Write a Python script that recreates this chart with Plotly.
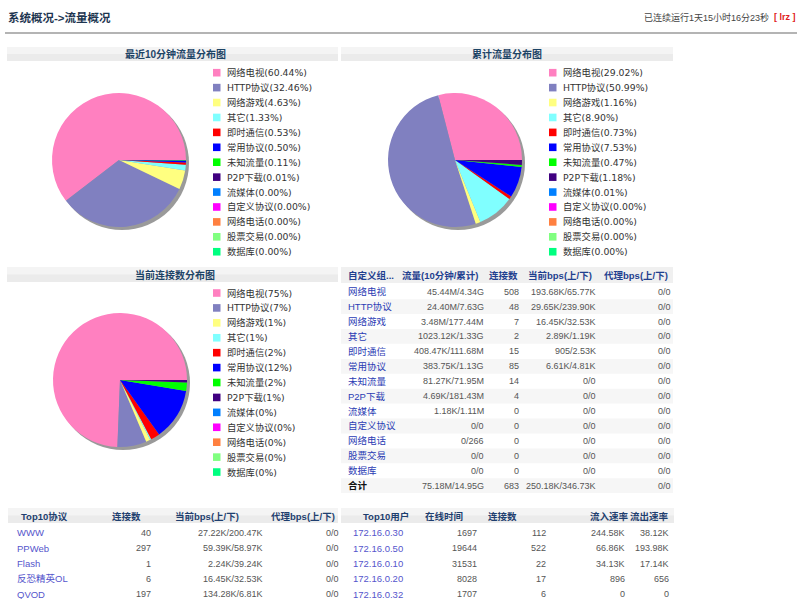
import plotly.graph_objects as go

# ---------------- data ----------------
categories = ['网络电视', 'HTTP协议', '网络游戏', '其它', '即时通信', '常用协议', '未知流量',
              'P2P下载', '流媒体', '自定义协议', '网络电话', '股票交易', '数据库']
cat_colors = ['#ff80c0', '#8080c0', '#ffff80', '#80ffff', '#ff0000', '#0000ff', '#00ff00',
              '#400080', '#0080ff', '#ff00ff', '#ff8040', '#80ff80', '#00ff80']
recent_pct = [60.44, 32.46, 4.63, 1.33, 0.53, 0.50, 0.11, 0.01, 0.00, 0.00, 0.00, 0.00, 0.00]
total_pct = [29.02, 50.99, 1.16, 8.90, 0.73, 7.53, 0.47, 1.18, 0.01, 0.00, 0.00, 0.00, 0.00]
conn_pct = [75, 7, 1, 1, 2, 12, 2, 1, 0, 0, 0, 0, 0]
traffic = ['45.44M/4.34G', '24.40M/7.63G', '3.48M/177.44M', '1023.12K/1.33G', '408.47K/111.68M',
           '383.75K/1.13G', '81.27K/71.95M', '4.69K/181.43M', '1.18K/1.11M', '0/0', '0/266', '0/0', '0/0']
connections = [508, 48, 7, 2, 15, 85, 14, 4, 0, 0, 0, 0, 0]
cur_bps = ['193.68K/65.77K', '29.65K/239.90K', '16.45K/32.53K', '2.89K/1.19K', '905/2.53K',
           '6.61K/4.81K', '0/0', '0/0', '0/0', '0/0', '0/0', '0/0', '0/0']
proxy_bps = ['0/0'] * 13
total_row = ['合计', '75.18M/14.95G', 683, '250.18K/346.73K', '0/0']
table_headers = ['自定义组...', '流量(10分钟/累计)', '连接数', '当前bps(上/下)', '代理bps(上/下)']

chart_titles = ['最近10分钟流量分布图', '累计流量分布图', '当前连接数分布图']

top_proto_headers = ['Top10协议', '连接数', '当前bps(上/下)', '代理bps(上/下)']
top_proto = ['WWW', 'PPWeb', 'Flash', '反恐精英OL', 'QVOD']
top_proto_conn = [40, 297, 1, 6, 197]
top_proto_bps = ['27.22K/200.47K', '59.39K/58.97K', '2.24K/39.24K', '16.45K/32.53K', '134.28K/6.81K']
top_proto_proxy = ['0/0'] * 5

top_user_headers = ['Top10用户', '在线时间', '连接数', '流入速率', '流出速率']
top_users = ['172.16.0.30', '172.16.0.50', '172.16.0.10', '172.16.0.20', '172.16.0.32']
top_user_online = [1697, 19644, 31531, 8028, 1707]
top_user_conn = [112, 522, 22, 17, 6]
top_user_in = ['244.58K', '66.86K', '34.13K', '896', '0']
top_user_out = ['38.12K', '193.98K', '17.14K', '656', '0']

page_title = '系统概况->流量概况'
uptime_text = '已连续运行1天15小时16分23秒'
user_text = '[ lrz ]'

# ---------------- layout helpers ----------------
W, H = 800, 599
CJK = 'Liberation Sans, Noto Sans CJK SC'
LEG = 'DejaVu Sans, Noto Sans CJK SC'
HEAD_C = '#1d4466'
LINK_C = '#2b3cb4'
NUM_C = '#555555'

fig = go.Figure()
shapes = []
annotations = []


def txt(x, y, s, anchor='left', size=9, color=NUM_C, bold=False, family=CJK):
    if bold:
        s = '<b>%s</b>' % s
    annotations.append(dict(x=x, y=y, xref='x', yref='y', text=str(s), showarrow=False,
                            xanchor=anchor, yanchor='middle', borderpad=0,
                            font=dict(size=size, color=color, family=family)))


def rect(x0, y0, x1, y1, color, layer='below'):
    shapes.append(dict(type='rect', xref='x', yref='y', x0=x0, y0=y0, x1=x1, y1=y1,
                       fillcolor=color, line=dict(width=0), layer=layer))


def header_bar(x0, x1, y0, y1):
    rect(x0, y0, x1, y1, '#ebebeb')
    rect(x0, y0, x1, (y0 + y1) / 2, '#f4f4f4')


def pie(values, cx, cy, r):
    def dom(c0, c1, rr):
        return dict(x=[(c0 - rr) / W, (c0 + rr) / W],
                    y=[1 - (c1 + rr) / H, 1 - (c1 - rr) / H])
    # first slice starts at 3 o'clock, all slices run counter-clockwise
    rot = 90 - 360.0 * values[0] / sum(values)
    fig.add_trace(go.Pie(values=[1], labels=['shadow'], domain=dom(cx + 3, cy + 3, r),
                         marker=dict(colors=['#9a9a9a'], line=dict(width=0)),
                         textinfo='none', hoverinfo='skip', showlegend=False, sort=False))
    fig.add_trace(go.Pie(values=values, labels=categories, domain=dom(cx, cy, r),
                         marker=dict(colors=cat_colors, line=dict(width=0)),
                         textinfo='none', showlegend=False, sort=False,
                         direction='counterclockwise', rotation=rot))


def legend(x, y0, labels):
    for i, (lab, col) in enumerate(zip(labels, cat_colors)):
        y = y0 + i * 14.92
        rect(x, y - 3.8, x + 7.5, y + 3.8, col, layer='above')
        txt(x + 13, y, lab, size=9.3, color='#333333', family=LEG)


# ---------------- page header ----------------
txt(7, 17, page_title, size=11.5, color='#1d3550', bold=True)
txt(770, 17, uptime_text, anchor='right', size=9, color='#444444')
txt(797, 17, user_text, anchor='right', size=9, color='#e02020', bold=True)
rect(5, 32, 797, 34, '#b4b4b4')

# ---------------- pies ----------------
header_bar(7, 338, 47, 61)
header_bar(341, 673, 47, 61)
header_bar(7, 338, 267, 282)
txt(175, 54, chart_titles[0], anchor='center', size=10, color=HEAD_C, bold=True)
txt(507, 54, chart_titles[1], anchor='center', size=10, color=HEAD_C, bold=True)
txt(175, 274.5, chart_titles[2], anchor='center', size=10, color=HEAD_C, bold=True)

pie(recent_pct, 119, 160, 67)
pie(total_pct, 455, 160, 67)
pie(connections, 120, 380, 67)

legend(213, 72.7, ['%s(%.2f%%)' % (c, v) for c, v in zip(categories, recent_pct)])
legend(549, 72.7, ['%s(%.2f%%)' % (c, v) for c, v in zip(categories, total_pct)])
legend(213, 293, ['%s(%d%%)' % (c, v) for c, v in zip(categories, conn_pct)])

# ---------------- custom group table ----------------
rect(341, 267, 673, 283, '#f0f0f0')
hx = [347, 440, 503, 560, 636]
for i, h in enumerate(table_headers):
    txt(hx[i], 275, h, anchor='left' if i == 0 else 'center', size=9.5, color='#1f3f8f', bold=True)
col_x = [347, 485, 520, 597, 672]
rows = list(zip(categories, traffic, connections, cur_bps, proxy_bps))
for r, row in enumerate(rows + [tuple(total_row)]):
    y = 291.7 + r * 14.92
    if r % 2 == 1:
        rect(341, y - 7.4, 673, y + 7.4, '#f6f6f6')
    last = r == len(rows)
    for c, v in enumerate(row):
        if c == 0:
            txt(col_x[c], y, v, size=9.5, color='#111111' if last else LINK_C, bold=last)
        else:
            txt(col_x[c], y, v, anchor='right', size=9, color=NUM_C)

# ---------------- top10 protocol ----------------
header_bar(8, 338, 508, 523)
px = [44, 126, 207, 303]
for i, h in enumerate(top_proto_headers):
    txt(px[i], 516, h, anchor='center', size=9.5, color='#1f3f6f', bold=True)
pcol = [16, 152, 264, 340]
for r in range(len(top_proto)):
    y = 532.7 + r * 15.4
    txt(pcol[0], y, top_proto[r], size=9.5, color='#5555cc')
    txt(pcol[1], y, top_proto_conn[r], anchor='right')
    txt(pcol[2], y, top_proto_bps[r], anchor='right')
    txt(pcol[3], y, top_proto_proxy[r], anchor='right')

# ---------------- top10 users ----------------
header_bar(341, 674, 508, 523)
ux = [386, 444, 502, 609, 649]
for i, h in enumerate(top_user_headers):
    txt(ux[i], 516, h, anchor='center', size=9.5, color='#1f3f6f', bold=True)
ucol = [352, 478, 547, 626, 670]
for r in range(len(top_users)):
    y = 532.7 + r * 15.4
    txt(ucol[0], y, top_users[r], size=9.5, color='#5555cc')
    txt(ucol[1], y, top_user_online[r], anchor='right')
    txt(ucol[2], y, top_user_conn[r], anchor='right')
    txt(ucol[3], y, top_user_in[r], anchor='right')
    txt(ucol[4], y, top_user_out[r], anchor='right')

fig.update_layout(
    width=W, height=H, margin=dict(l=0, r=0, t=0, b=0),
    paper_bgcolor='white', plot_bgcolor='white', showlegend=False,
    xaxis=dict(range=[0, W], visible=False, domain=[0, 1], fixedrange=True),
    yaxis=dict(range=[H, 0], visible=False, domain=[0, 1], fixedrange=True),
    shapes=shapes, annotations=annotations,
)
fig.write_html('out.html', config={'displayModeBar': False},
               post_script="document.body.style.margin='0px';document.body.style.overflow='hidden';")
